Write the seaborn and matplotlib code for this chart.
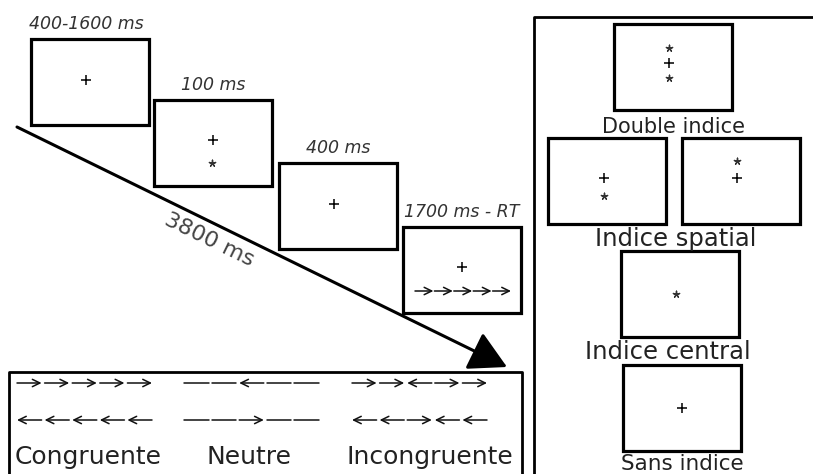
import matplotlib
matplotlib.use("Agg")
import matplotlib.pyplot as plt
import seaborn as sns
import pandas as pd
from matplotlib.patches import Rectangle

# trial sequence: time labels and screens
trial_labels = ["400-1600 ms", "100 ms", "400 ms", "1700 ms - RT"]
trial_boxes = [(31, 39), (154, 100), (279, 163), (403, 227)]   # top-left corners, px
total_label = "3800 ms"

# cue conditions (right panel)
cue_labels = ["Double indice", "Indice spatial", "Indice central", "Sans indice"]
cue_boxes = [(614, 24), (548, 138), (682, 138), (621, 251), (623, 365)]

# flanker conditions (bottom panel)
flanker_labels = ["Congruente", "Neutre", "Incongruente"]
flanker_rows = [["rrrrr", "--l--", "rrlrr"],
                ["lllll", "--r--", "llrll"]]

# fixation crosses and cue stars
plus_x = [86, 213, 334, 462, 669, 604, 737, 682]
plus_y = [80, 140, 204, 267, 63, 178, 178, 408]
star_x = [212, 669, 669, 604, 737, 676]
star_y = [163, 48, 78, 196, 161, 294]

BOX_W, BOX_H = 118, 86

sns.set_theme(style="white")
plt.rcParams['font.family'] = ['DejaVu Sans']

fig = plt.figure(figsize=(8.13, 4.74), dpi=100)
ax = fig.add_axes([0, 0, 1, 1])


def box(x, y, w=BOX_W, h=BOX_H, lw=2.3):
    ax.add_patch(Rectangle((x, y), w, h, fill=False, ec="black", lw=lw))


def arrow_row(code, x0, y, width=138, gap=3):
    w = width / len(code)
    for i, c in enumerate(code):
        a, b = x0 + i * w, x0 + (i + 1) * w - gap
        if c in "rl":
            tip, tail = (b, a) if c == "r" else (a, b)
            ax.annotate("", xy=(tip, y), xytext=(tail, y),
                        arrowprops=dict(arrowstyle="->,head_length=0.45,head_width=0.22",
                                        lw=1.1, color="#111", shrinkA=0, shrinkB=0))
        else:
            ax.plot([a, b], [y, y], color="#111", lw=1.1)


# trial screens
for (x, y), lab in zip(trial_boxes, trial_labels):
    box(x, y)
    dx = -4 if lab == trial_labels[0] else 0
    ax.text(x + BOX_W / 2 + dx, y - 6, lab, ha="center", va="bottom",
            fontsize=12.5, style="italic", color="#333")
arrow_row("rrrrr", 415, 291, width=97, gap=1)

# long time arrow
ax.annotate("", xy=(507, 367), xytext=(17, 127),
            arrowprops=dict(arrowstyle="-|>,head_length=1.1,head_width=0.6",
                            lw=2.2, color="black", mutation_scale=21,
                            shrinkA=0, shrinkB=0))
ax.text(209, 240, total_label, ha="center", va="center", rotation=-26,
        fontsize=16, color="#444")

# flanker panel
ax.plot([9, 9, 522, 522], [480, 372, 372, 480], color="black", lw=2)
for row, yy in zip(flanker_rows, [383, 420]):
    for code, x0 in zip(row, [17, 184, 352]):
        arrow_row(code, x0, yy)
for lab, cx in zip(flanker_labels, [88, 249, 430]):
    ax.text(cx, 457, lab, ha="center", va="center", fontsize=18, color="#222")

# cue panel
ax.plot([534, 534, 820], [480, 17, 17], color="black", lw=2)
for x, y in cue_boxes:
    box(x, y)
for lab, (cx, cy), fs in zip(cue_labels[:3], [(673, 127), (676, 239), (668, 352)],
                             [15, 17.5, 17.5]):
    ax.text(cx, cy, lab, ha="center", va="center", fontsize=fs, color="#222")
ax.text(682, 470, cue_labels[3], ha="center", va="baseline", fontsize=15.5, color="#222")

plus = pd.DataFrame({"x": plus_x, "y": plus_y})
stars = pd.DataFrame({"x": star_x, "y": star_y})
sns.scatterplot(data=plus, x="x", y="y", marker="+", s=45, color="black",
                linewidth=1.1, ax=ax, legend=False)
sns.scatterplot(data=stars, x="x", y="y", marker=(5, 2, 0), s=22, color="#333",
                linewidth=1.0, ax=ax, legend=False)
ax.set_xlim(0, 813)
ax.set_ylim(474, 0)
ax.axis("off")

fig.savefig("out.png", dpi=100, facecolor="white")
